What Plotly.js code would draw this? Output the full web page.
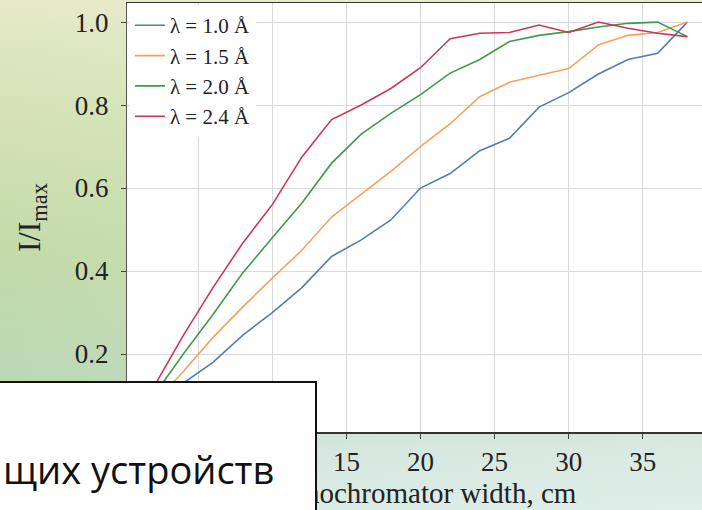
<!DOCTYPE html>
<html>
<head>
<meta charset="utf-8">
<script src="https://cdn.plot.ly/plotly-3.0.1.min.js"></script>
<style>
  html, body { margin: 0; padding: 0; width: 702px; height: 510px; overflow: hidden; }
  body {
    background:
      linear-gradient(to right, rgba(255,255,255,0) 0%, rgba(235,245,240,0.35) 100%),
      linear-gradient(to bottom, #e6e9c8 0%, #d2e2b4 25%, #c2daa8 50%, #bcd8b6 75%, #d0e4dc 88%, #d8eae4 100%);
    position: relative;
  }
  #chart { position: absolute; left: 0; top: 0; width: 730px; height: 510px; }
  #overlay {
    position: absolute; left: -4px; top: 381px; width: 321px; height: 140px;
    box-sizing: border-box; border: 2px solid #111; background: #ffffff;
  }
  #overlay span {
    position: absolute; left: 5px; top: 67px;
    font-family: "Open Sans", sans-serif; font-size: 38px; line-height: 38px; color: #111;
    white-space: nowrap;
  }
</style>
</head>
<body>
<div id="chart"></div>
<div id="overlay"><span>щих устройств</span></div>
<script>
// Monochromator width, cm
const widths = [2, 4, 6, 8, 10, 12, 14, 16, 18, 20, 22, 24, 26, 28, 30, 32, 34, 36, 38];
// I/Imax for each wavelength
const lam10 = [0.06, 0.13, 0.18, 0.245, 0.30, 0.36, 0.435, 0.475, 0.523, 0.60, 0.635, 0.69, 0.72, 0.795, 0.83, 0.875, 0.91, 0.925, 1.0];
const lam15 = [0.08, 0.158, 0.240, 0.313, 0.383, 0.45, 0.53, 0.585, 0.64, 0.70, 0.755, 0.82, 0.855, 0.872, 0.888, 0.945, 0.968, 0.975, 1.0];
const lam20 = [0.10, 0.20, 0.295, 0.395, 0.48, 0.564, 0.66, 0.73, 0.78, 0.825, 0.877, 0.91, 0.953, 0.968, 0.977, 0.988, 0.997, 1.0, 0.965];
const lam24 = [0.12, 0.245, 0.36, 0.467, 0.56, 0.675, 0.765, 0.80, 0.84, 0.89, 0.96, 0.973, 0.975, 0.993, 0.975, 1.0, 0.985, 0.973, 0.965];
const seriesNames = ["λ = 1.0 Å", "λ = 1.5 Å", "λ = 2.0 Å", "λ = 2.4 Å"];
const seriesColors = ["#4f7db5", "#f4a25a", "#3f9b4c", "#c9375a"];
const xTicks = [5, 10, 15, 20, 25, 30, 35];
const yTicks = [0.2, 0.4, 0.6, 0.8, 1.0];
const yTickText = ["0.2", "0.4", "0.6", "0.8", "1.0"];

const allSeries = [lam10, lam15, lam20, lam24];
const traces = allSeries.map((ys, i) => ({
  x: widths, y: ys, type: "scatter", mode: "lines", name: seriesNames[i],
  line: { color: seriesColors[i], width: 1.6 }
}));
// empty helper trace so the short tick-mark axis is drawn
traces.push({ x: [], y: [], type: "scatter", mode: "lines", yaxis: "y2", showlegend: false, hoverinfo: "skip" });

const serif = "Liberation Serif, Times New Roman, serif";
const yRange = [0.012, 1.046];
const layout = {
  width: 730, height: 510,
  margin: { l: 127, r: 16, t: 3, b: 78 },
  paper_bgcolor: "rgba(0,0,0,0)",
  plot_bgcolor: "#ffffff",
  showlegend: true,
  legend: {
    x: 0.005, y: 0.995, xanchor: "left", yanchor: "top",
    bgcolor: "#ffffff", borderwidth: 0,
    font: { family: serif, size: 21, color: "#222" },
    tracegroupgap: 0
  },
  xaxis: {
    range: [0.2, 39.8], tickvals: xTicks, ticks: "outside", ticklen: 5, tickcolor: "#444",
    showgrid: true, gridcolor: "#d9d9d9", gridwidth: 1,
    showline: true, linecolor: "#333", linewidth: 1.5, mirror: true,
    zeroline: false,
    tickfont: { family: serif, size: 27, color: "#222" },
    title: { text: "Monochromator width, cm", font: { family: serif, size: 29, color: "#222" }, standoff: 6 }
  },
  yaxis: {
    range: yRange, tickvals: yTicks, ticktext: yTickText, ticks: "outside", ticklen: 12, tickcolor: "rgba(0,0,0,0)",
    showgrid: true, gridcolor: "#d9d9d9", gridwidth: 1,
    showline: true, linecolor: "#555", linewidth: 1.2, mirror: true,
    zeroline: false,
    tickfont: { family: serif, size: 27, color: "#222" },
    title: { text: "I/I<sub>max</sub>", font: { family: serif, size: 32, color: "#222" }, standoff: 24 }
  },
  yaxis2: {
    overlaying: "y", side: "left", range: yRange, tickvals: yTicks,
    ticks: "outside", ticklen: 5, tickcolor: "#444", showticklabels: false,
    showgrid: false, showline: false, zeroline: false
  }
};
Plotly.newPlot("chart", traces, layout, { displayModeBar: false, staticPlot: true });
</script>
</body>
</html>
